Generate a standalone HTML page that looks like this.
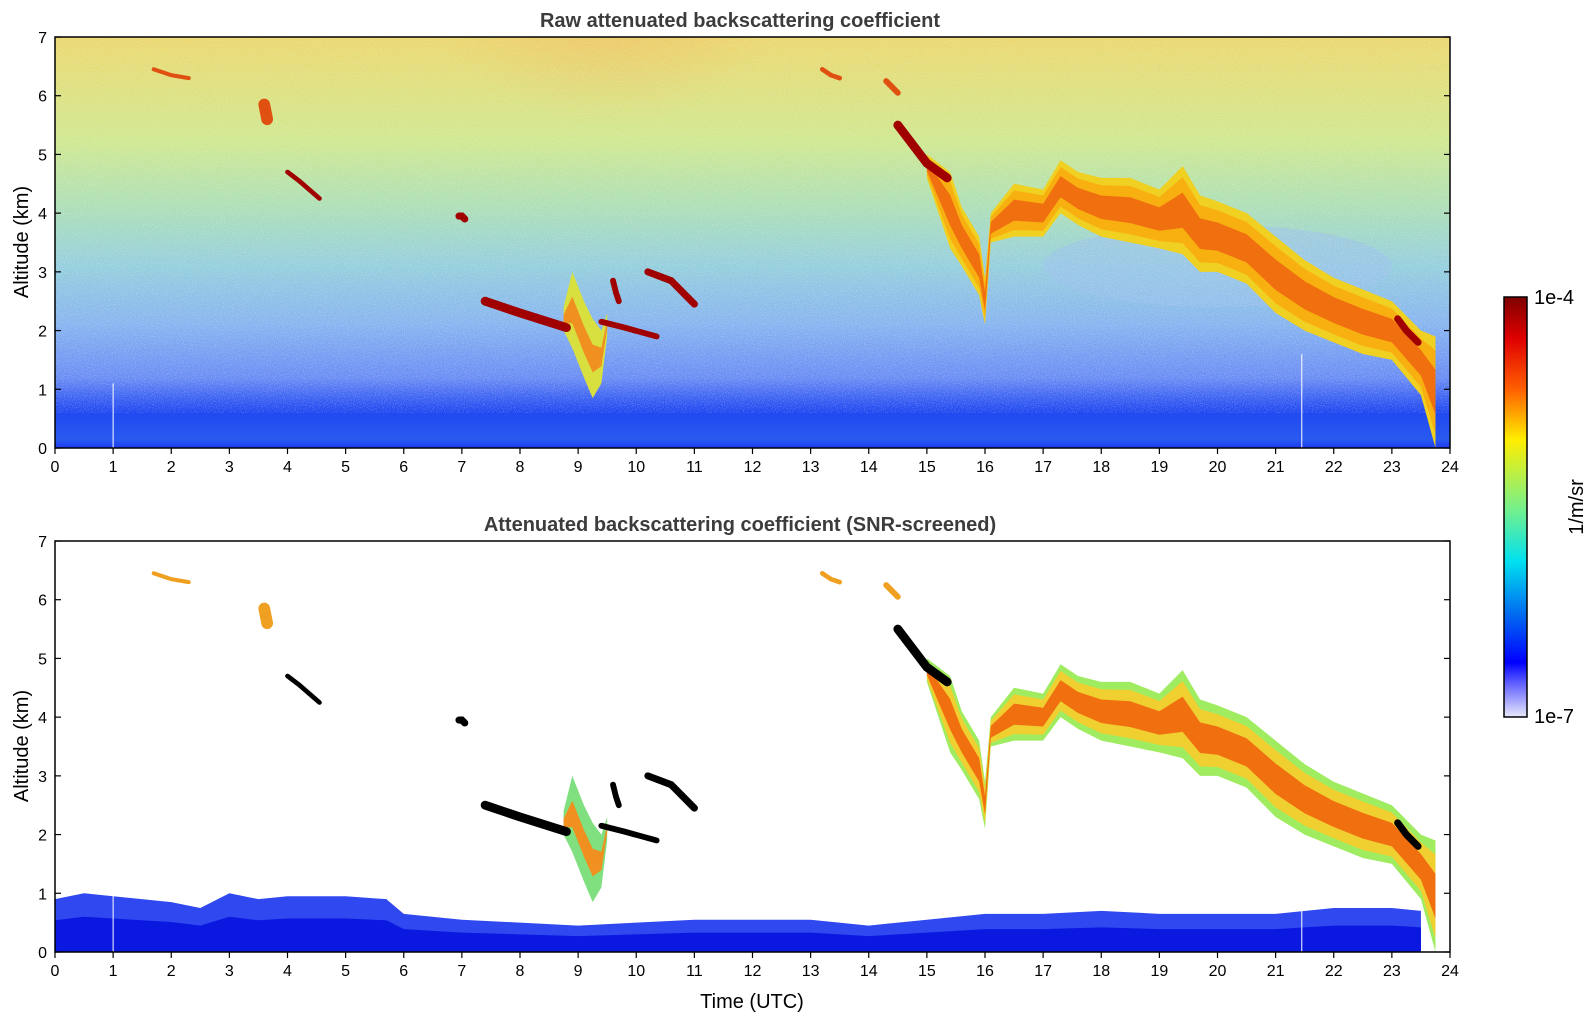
<!DOCTYPE html>
<html><head><meta charset="utf-8"><style>
html,body{margin:0;padding:0;background:#fff;}
svg text{font-family:"Liberation Sans","DejaVu Sans",sans-serif;}
</style></head><body>
<svg id="chart" width="1595" height="1020" viewBox="0 0 1595 1020" xmlns="http://www.w3.org/2000/svg">
<defs>
<linearGradient id="rawbg" x1="0" y1="1" x2="0" y2="0">
<stop offset="0" stop-color="#1a3af0"/><stop offset="0.02" stop-color="#2a5af0"/>
<stop offset="0.09" stop-color="#2048f0"/><stop offset="0.12" stop-color="#3a60f2"/>
<stop offset="0.17" stop-color="#6a8cf4"/><stop offset="0.3" stop-color="#86b4f0"/>
<stop offset="0.45" stop-color="#96d0dc"/><stop offset="0.6" stop-color="#b0e0b4"/>
<stop offset="0.75" stop-color="#d0e890"/><stop offset="1" stop-color="#ecd870"/>
</linearGradient>
<radialGradient id="orangeblob" cx="0.5" cy="0" r="0.7">
<stop offset="0" stop-color="#f07030" stop-opacity="0.9"/><stop offset="0.5" stop-color="#f0a050" stop-opacity="0.55"/><stop offset="1" stop-color="#f0c060" stop-opacity="0"/>
</radialGradient>
<linearGradient id="cbar" x1="0" y1="0" x2="0" y2="1">
<stop offset="0" stop-color="#7f0000"/><stop offset="0.1" stop-color="#e00000"/>
<stop offset="0.22" stop-color="#ff6000"/><stop offset="0.34" stop-color="#ffee00"/>
<stop offset="0.51" stop-color="#70f090"/><stop offset="0.63" stop-color="#00e0f0"/>
<stop offset="0.75" stop-color="#0070f0"/><stop offset="0.87" stop-color="#0000ff"/>
<stop offset="0.92" stop-color="#6060ff"/><stop offset="1" stop-color="#e8e8fa"/>
</linearGradient>
<filter id="noise" x="0" y="0" width="100%" height="100%">
<feTurbulence type="fractalNoise" baseFrequency="0.9" numOctaves="1" seed="3" result="n"/>
<feColorMatrix type="matrix" values="0 0 0 0 1  0 0 0 0 1  0 0 0 0 1  0 0 0 -2.2 1.2"/>
</filter>
<clipPath id="clipTop"><rect x="55" y="37" width="1395" height="411"/></clipPath>
<clipPath id="clipBot"><rect x="55" y="541" width="1395" height="411"/></clipPath>
</defs>
<g id="panels"></g>
<text x="740" y="27" text-anchor="middle" font-size="20" font-weight="bold" fill="#3c3c3c">Raw attenuated backscattering coefficient</text>
<text x="740" y="531" text-anchor="middle" font-size="20" font-weight="bold" fill="#3c3c3c">Attenuated backscattering coefficient (SNR-screened)</text>
<text transform="translate(28,242) rotate(-90)" text-anchor="middle" font-size="20" fill="#000">Altitude (km)</text>
<text transform="translate(28,746) rotate(-90)" text-anchor="middle" font-size="20" fill="#000">Altitude (km)</text>
<text x="752" y="1008" text-anchor="middle" font-size="20" fill="#000">Time (UTC)</text>
<g>
<rect x="1504" y="297" width="23" height="420" fill="url(#cbar)" stroke="#000" stroke-width="1.5"/>
<text x="1534" y="304" font-size="20">1e-4</text>
<text x="1534" y="723" font-size="20">1e-7</text>
<text transform="translate(1583,507) rotate(-90)" text-anchor="middle" font-size="20">1/m/sr</text>
</g>
</svg>
<script>
// ---- data (hours, km) ----
const hourTicks=[0,1,2,3,4,5,6,7,8,9,10,11,12,13,14,15,16,17,18,19,20,21,22,23,24];
const altTicks=[0,1,2,3,4,5,6,7];
// main cloud band
const bandT   =[15.0,15.4,15.6,15.9,16.0,16.1,16.5,17.0,17.3,17.6,18.0,18.5,19.0,19.4,19.7,20.0,20.5,21.0,21.5,22.0,22.5,23.0,23.5,23.75];
const bandTop =[5.0, 4.7, 4.1, 3.6, 2.9, 4.0, 4.5, 4.4, 4.9, 4.7, 4.6, 4.6, 4.4, 4.8, 4.3, 4.2, 4.0, 3.6, 3.2, 2.9, 2.7, 2.5, 2.0, 1.9];
const bandBase=[4.6, 3.4, 3.1, 2.6, 2.1, 3.5, 3.6, 3.6, 4.0, 3.8, 3.6, 3.5, 3.4, 3.3, 3.0, 3.0, 2.8, 2.3, 2.0, 1.8, 1.6, 1.5, 0.9, 0.0];
// fall streak near 9h
const streakT   =[8.75,8.9,9.1,9.25,9.4,9.5];
const streakTop =[2.4,3.0,2.5,2.2,2.0,2.3];
const streakBase=[2.0,1.7,1.2,0.85,1.1,1.9];
// thin dense cloud segments
const segStart=[[7.4,2.5],[9.4,2.15],[10.2,3.0],[9.6,2.85],[4.0,4.7],[14.5,5.5],[1.7,6.45],[13.2,6.45],[14.3,6.25],[6.95,3.95],[23.1,2.2],[3.6,5.85]];
const segEnd  =[[8.8,2.05],[10.35,1.9],[11.0,2.45],[9.7,2.5],[4.55,4.25],[15.35,4.6],[2.3,6.3],[13.5,6.3],[14.5,6.05],[7.05,3.9],[23.45,1.8],[3.65,5.6]];
const segThick=[0.15,0.1,0.12,0.1,0.08,0.15,0.07,0.08,0.1,0.12,0.12,0.2];
const segMid  =[[8.0,2.3],[9.8,2.05],[10.6,2.85],[9.65,2.65],[4.2,4.55],[15.0,4.85],[2.0,6.35],[13.35,6.35],[14.4,6.15],[7.0,3.95],[23.25,2.0],[3.62,5.75]];
// boundary-layer top in screened panel
const blT  =[0,0.5,1,2,2.5,3,3.5,4,5,5.7,6,7,8,9,10,11,12,13,14,15,16,17,18,19,20,21,22,23,23.5];
const blTop=[0.9,1.0,0.95,0.85,0.75,1.0,0.9,0.95,0.95,0.9,0.65,0.55,0.5,0.45,0.5,0.55,0.55,0.55,0.45,0.55,0.65,0.65,0.7,0.65,0.65,0.65,0.75,0.75,0.7];

const NS='http://www.w3.org/2000/svg';
const X0=55,PX=58.125,PH=411;
function X(t){return X0+t*PX;}
function Yf(top){return z=>top+(7-z)*PH/7;}
function mk(tag,attrs,parent){const e=document.createElementNS(NS,tag);for(const k in attrs)e.setAttribute(k,attrs[k]);parent.appendChild(e);return e;}
function bandPath(ts,tops,bases,Y){let d='M'+X(ts[0])+','+Y(tops[0]);for(let i=1;i<ts.length;i++)d+='L'+X(ts[i])+','+Y(tops[i]);for(let i=ts.length-1;i>=0;i--)d+='L'+X(ts[i])+','+Y(bases[i]);return d+'Z';}
function shrink(ts,tops,bases,f){const t2=[],b2=[];for(let i=0;i<ts.length;i++){const m=(tops[i]+bases[i])/2,h=(tops[i]-bases[i])*f/2;t2.push(m+h);b2.push(m-h);}return [t2,b2];}
const root=document.getElementById('panels');

function panel(top,raw,name){
  const Y=Yf(top);
  const g=mk('g',{'clip-path':raw?'url(#clipTop)':'url(#clipBot)'},root);
  
  
  if(raw){
    const bg=mk('rect',{x:X0,y:top,width:1395,height:PH,fill:'url(#rawbg)'},g);
    
    
    mk('ellipse',{cx:X(9.5),cy:top,rx:PX*3,ry:PH*0.55,fill:'url(#orangeblob)'},g);
    mk('ellipse',{cx:X(20),cy:Y(3.1),rx:PX*3,ry:PH*0.1,fill:'#9cc0ee',opacity:0.5},g);
    mk('rect',{x:X0,y:Y(7),width:1395,height:Y(0.6)-Y(7),filter:'url(#noise)',opacity:0.35},g);
  }else{
    let d='M'+X(blT[0])+','+Y(0);
    for(let i=0;i<blT.length;i++)d+='L'+X(blT[i])+','+Y(blTop[i]);
    d+='L'+X(23.5)+','+Y(0)+'Z';
    const bl=mk('path',{d:d,fill:'#3048f0'},g);
    
    
    let d2='M'+X(blT[0])+','+Y(0);
    for(let i=0;i<blT.length;i++)d2+='L'+X(blT[i])+','+Y(blTop[i]*0.6);
    d2+='L'+X(23.5)+','+Y(0)+'Z';
    mk('path',{d:d2,fill:'#0a18e0'},g);
  }
  // main band
  const outer=mk('path',{d:bandPath(bandT,bandTop,bandBase,Y),fill:raw?'#f0d020':'#a0ec60'},g);
  
  
  let s=shrink(bandT,bandTop,bandBase,0.75);
  mk('path',{d:bandPath(bandT,s[0],s[1],Y),fill:raw?'#f8b010':'#f0d030'},g);
  s=shrink(bandT,bandTop,bandBase,0.4);
  mk('path',{d:bandPath(bandT,s[0],s[1],Y),fill:'#f07010'},g);
  // streak
  const st=mk('path',{d:bandPath(streakT,streakTop,streakBase,Y),fill:raw?'#d8e040':'#80e080'},g);
  
  
  s=shrink(streakT,streakTop,streakBase,0.35);
  mk('path',{d:bandPath(streakT,s[0],s[1],Y),fill:'#f09020'},g);
  // segments
  for(let i=0;i<segStart.length;i++){
    const w=segThick[i]*PH/7;
    const dense=i<6||i===9||i===10;
    const col=dense?(raw?'#a00000':'#000'):(raw?'#e05010':'#f0a020');
    const p=mk('polyline',{points:[segStart[i],segMid[i],segEnd[i]].map(q=>X(q[0])+','+Y(q[1])).join(' '),fill:'none',stroke:col,'stroke-width':w,'stroke-linecap':'round'},g);
    
    
  }
  // white gap lines
  mk('line',{x1:X(1),x2:X(1),y1:Y(1.1),y2:Y(0),stroke:'#fff','stroke-width':1},g);
  mk('line',{x1:X(21.45),x2:X(21.45),y1:Y(raw?1.6:0.7),y2:Y(0),stroke:'#fff','stroke-width':1},g);
  // frame
  const fr=mk('rect',{x:X0,y:top,width:1395,height:PH,fill:'none',stroke:'#000','stroke-width':1.5},root);
  
  
  // ticks
  hourTicks.forEach(h=>{
    mk('line',{x1:X(h),x2:X(h),y1:top+PH,y2:top+PH+6,stroke:'#000','stroke-width':1.2},root);
    const t=mk('text',{x:X(h),y:top+PH+24,'text-anchor':'middle','font-size':16},root);
    
    
    t.textContent=h;
  });
  altTicks.forEach(a=>{
    mk('line',{x1:X0,x2:X0+6,y1:Y(a),y2:Y(a),stroke:'#000','stroke-width':1.2},root);
    mk('line',{x1:1450-6,x2:1450,y1:Y(a),y2:Y(a),stroke:'#000','stroke-width':1.2},root);
    const t=mk('text',{x:X0-8,y:Y(a)+6,'text-anchor':'end','font-size':16},root);
    
    
    t.textContent=a;
  });
}
panel(37,true,'raw');
panel(541,false,'screened');
</script>
</body></html>
